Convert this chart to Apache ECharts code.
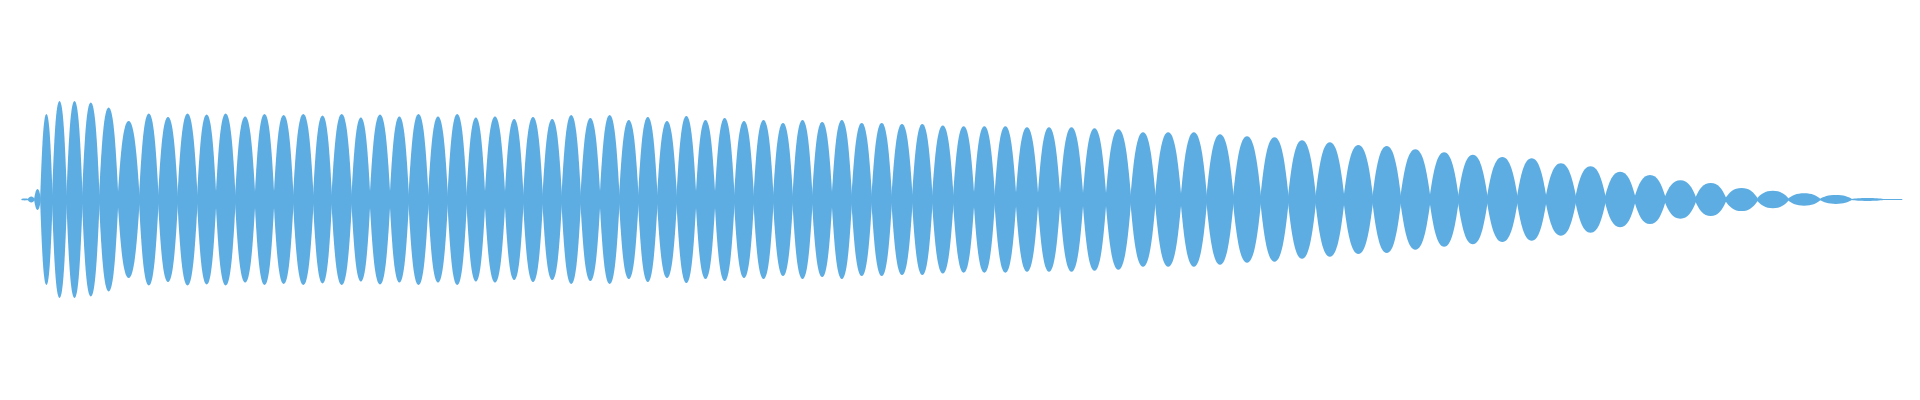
<!DOCTYPE html>
<html>
<head>
<meta charset="utf-8">
<script src="https://cdn.jsdelivr.net/npm/echarts@6/dist/echarts.min.js"></script>
<style>
html,body{margin:0;padding:0;background:#ffffff;}
#chart{width:1920px;height:400px;}
</style>
</head>
<body>
<div id="chart"></div>
<script>
// Time (ms) of each point where two neighbouring lobes of the waveform meet
var junctions = [1.7, 8, 14.5, 20.5, 32.3, 46.7, 62.3, 79.3, 98, 119.3, 138.3, 157.7, 177.3, 196, 215.3, 235, 254, 273.3, 293.3, 311.7, 331.7, 350, 370, 388.7, 408.3, 427.7, 446.7, 465, 485, 503.3, 522.7, 541.7, 560.7, 580, 599.3, 618.3, 637.3, 656.7, 676, 695, 714.3, 733.7, 753.3, 772.7, 792.3, 812, 831.7, 851.7, 871.7, 892.3, 912.3, 933.3, 954, 974.7, 996, 1018, 1040, 1063, 1086, 1110.7, 1135.3, 1161, 1186.7, 1213.3, 1240.7, 1268.3, 1295.7, 1324, 1352.7, 1380.7, 1410, 1438.3, 1467.3, 1497.3, 1526, 1555.7, 1585.3, 1615, 1645, 1675.7, 1705.7, 1737.3, 1768.3, 1800, 1831.7, 1863.3, 1882];
// Peak amplitude (normalised, 1 = full scale) of each lobe
var peaks = [0.010, 0.030, 0.105, 0.855, 0.985, 0.985, 0.970, 0.920, 0.785,
  0.860, 0.825, 0.860, 0.850, 0.860, 0.830, 0.855, 0.845, 0.855, 0.840, 0.855, 0.820, 0.850, 0.830, 0.855, 0.830, 0.855, 0.820,
  0.830, 0.805, 0.825, 0.805, 0.845, 0.815, 0.845, 0.795, 0.825, 0.785, 0.835, 0.795, 0.815, 0.785, 0.795, 0.765, 0.795, 0.775, 0.795, 0.765, 0.765, 0.755, 0.755, 0.740,
  0.732, 0.732, 0.732, 0.722, 0.722, 0.722, 0.712, 0.702, 0.672, 0.672, 0.672, 0.652, 0.632, 0.622, 0.592, 0.572, 0.545, 0.535, 0.502,
  0.472, 0.448, 0.425, 0.412, 0.362, 0.332, 0.278, 0.245, 0.192, 0.165, 0.115, 0.088, 0.062, 0.045, 0.015,
  0.006];

var COLOR = '#5dade2';

var lobes = peaks.map(function (a, i) { return [junctions[i], junctions[i + 1], a]; });

function renderLobe(params, api) {
  var x0 = api.value(0), x1 = api.value(1), a = api.value(2);
  var pL = api.coord([x0, 0]);
  var pR = api.coord([x1, 0]);
  var pT = api.coord([x0, a]);
  var cy = pL[1];
  var A = cy - pT[1];
  var xl = pL[0] - 0.3, xr = pR[0] + 0.3;
  var xm = (pL[0] + pR[0]) / 2;
  var h = (pR[0] - pL[0]) / 2;
  var n = Math.max(0.6, Math.min(3, 0.12 * A));
  if (A < n) A = n;
  var c1 = n + 0.6 * (A - n);
  var k1 = 0.25 * h, k2 = 0.5 * h;
  var d = 'M' + xl + ',' + (cy - n) +
    ' C' + (pL[0] + k1) + ',' + (cy - c1) + ' ' + (xm - k2) + ',' + (cy - A) + ' ' + xm + ',' + (cy - A) +
    ' C' + (xm + k2) + ',' + (cy - A) + ' ' + (pR[0] - k1) + ',' + (cy - c1) + ' ' + xr + ',' + (cy - n) +
    ' L' + xr + ',' + (cy + n) +
    ' C' + (pR[0] - k1) + ',' + (cy + c1) + ' ' + (xm + k2) + ',' + (cy + A) + ' ' + xm + ',' + (cy + A) +
    ' C' + (xm - k2) + ',' + (cy + A) + ' ' + (pL[0] + k1) + ',' + (cy + c1) + ' ' + xl + ',' + (cy + n) +
    ' Z';
  return { type: 'path', shape: { pathData: d }, style: { fill: COLOR } };
}

var chart = echarts.init(document.getElementById('chart'), null, { renderer: 'canvas' });
chart.setOption({
  animation: false,
  backgroundColor: '#ffffff',
  grid: { left: 20, right: 18, top: 99.5, bottom: 100.5 },
  xAxis: { type: 'value', min: 0, max: 1882, show: false },
  yAxis: { type: 'value', min: -1, max: 1, show: false },
  series: [{
    type: 'custom',
    renderItem: renderLobe,
    encode: { x: [0, 1], y: 2 },
    data: lobes,
    silent: true
  }]
});
</script>
</body>
</html>
